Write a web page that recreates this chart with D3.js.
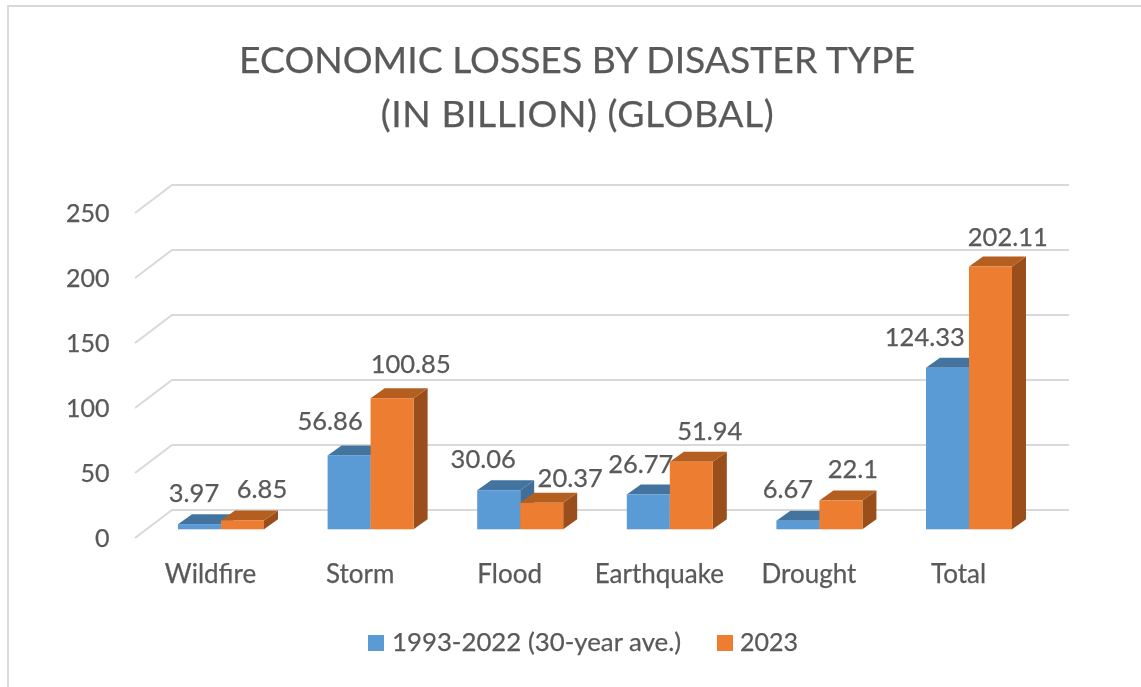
<!DOCTYPE html>
<html><head><meta charset="utf-8">
<script src="https://cdn.jsdelivr.net/npm/d3@7"></script>
<style>
html,body{margin:0;padding:0;background:#fff}
svg{display:block;filter:blur(0.45px)}
text{font-family:Lato,"Open Sans",sans-serif;fill:#595959;stroke:#595959;stroke-width:.25}
</style></head><body>
<svg id="c" width="1141" height="687"></svg>
<script>
const categories = ["Wildfire","Storm","Flood","Earthquake","Drought","Total"];
const seriesNames = ["1993-2022 (30-year ave.)","2023"];
const avgValues = [3.97,56.86,30.06,26.77,6.67,124.33];
const y2023Values = [6.85,100.85,20.37,51.94,22.1,202.11];
const avgLabels = ["3.97","56.86","30.06","26.77","6.67","124.33"];
const y2023Labels = ["6.85","100.85","20.37","51.94","22.1","202.11"];
const yTicks = [0,50,100,150,200,250];
// label nudges relative to bar centre / bar top (layout only)
const avgNudge = [[-5.5,-22],[-19,-25.4],[-15.5,-22],[-7.5,-21.5],[-10,-22.6],[-22.7,-21.7]];
const y2023Nudge = [[19.5,-22],[18.6,-25],[28.5,-16],[18.5,-22],[12,-22.6],[17.3,-20.6]];

const svg = d3.select("#c");
const COL = [{front:"#5B9BD5",top:"#4374A0",side:"#3F6E99"},{front:"#ED7D31",top:"#B45F20",side:"#9A4E1C"}];
const depthX = 14, depthY = 10;
const y = d3.scaleLinear().domain([0,250]).range([529.3,204.3]);
const x0 = d3.scaleBand().domain(categories).range([146.2,1043.8]).paddingInner(0.425).paddingOuter(0.2125);
const x1 = d3.scaleBand().domain([0,1]).range([0,x0.bandwidth()]);

// frame
svg.append("rect").attr("x",8).attr("y",6).attr("width",1240).attr("height",800)
  .attr("fill","none").attr("stroke","#d9d9d9").attr("stroke-width",2);

// title
svg.append("text").attr("x",577).attr("y",73).attr("text-anchor","middle").attr("font-size",37.3).text("ECONOMIC LOSSES BY DISASTER TYPE");
svg.append("text").attr("x",577.5).attr("y",127).attr("text-anchor","middle").attr("font-size",37.3).attr("letter-spacing",0.55).text("(IN BILLION) (GLOBAL)");

// gridlines on back wall and side wall
const grid = svg.append("g").attr("fill","none").attr("stroke","#d9d9d9").attr("stroke-width",2);
yTicks.forEach(t=>{
  const b = y(t)-19.3;
  grid.append("path").attr("d",d3.line()([[135,b+28],[172,b],[1069,b]]));
});

// y labels
svg.append("g").selectAll("text").data(yTicks).join("text")
  .attr("x",109.5).attr("y",d=>y(d)+18).attr("text-anchor","end").attr("font-size",25).text(d=>d);

// bars
const series = [avgValues,y2023Values];
series.forEach((vals,si)=>{
  const g = svg.append("g");
  categories.forEach((c,i)=>{
    const xl = x0(c)+x1(si), w = x1.bandwidth(), yt = y(vals[i]), yb = y(0);
    const line = d3.line();
    g.append("path").attr("fill",COL[si].side).attr("d",line([[xl+w,yt],[xl+w+depthX,yt-depthY],[xl+w+depthX,yb-depthY],[xl+w,yb]])+"Z");
    g.append("path").attr("fill",COL[si].top).attr("d",line([[xl,yt],[xl+depthX,yt-depthY],[xl+w+depthX,yt-depthY],[xl+w,yt]])+"Z");
    g.append("rect").attr("x",xl).attr("y",yt).attr("width",w).attr("height",yb-yt).attr("fill",COL[si].front);
  });
});

// data labels
[[avgValues,avgLabels,avgNudge],[y2023Values,y2023Labels,y2023Nudge]].forEach(([vals,labs,nudge],si)=>{
  categories.forEach((c,i)=>{
    svg.append("text").attr("text-anchor","middle").attr("font-size",25.5)
      .attr("x",x0(c)+x1(si)+x1.bandwidth()/2+nudge[i][0])
      .attr("y",y(vals[i])+nudge[i][1]).text(labs[i]);
  });
});

// category labels
svg.append("g").selectAll("text").data(categories).join("text")
  .attr("x",d=>x0(d)+x0.bandwidth()/2-10.5).attr("y",582.5).attr("text-anchor","middle").attr("font-size",26).text(d=>d);

// legend
const legendX = [[368,392],[717,740]];
const legendSize = [25.8,25];
seriesNames.forEach((s,i)=>{
  svg.append("rect").attr("x",legendX[i][0]).attr("y",635).attr("width",16).attr("height",16).attr("fill",COL[i].front);
  svg.append("text").attr("x",legendX[i][1]).attr("y",651).attr("font-size",legendSize[i]).text(s);
});
</script></body></html>
